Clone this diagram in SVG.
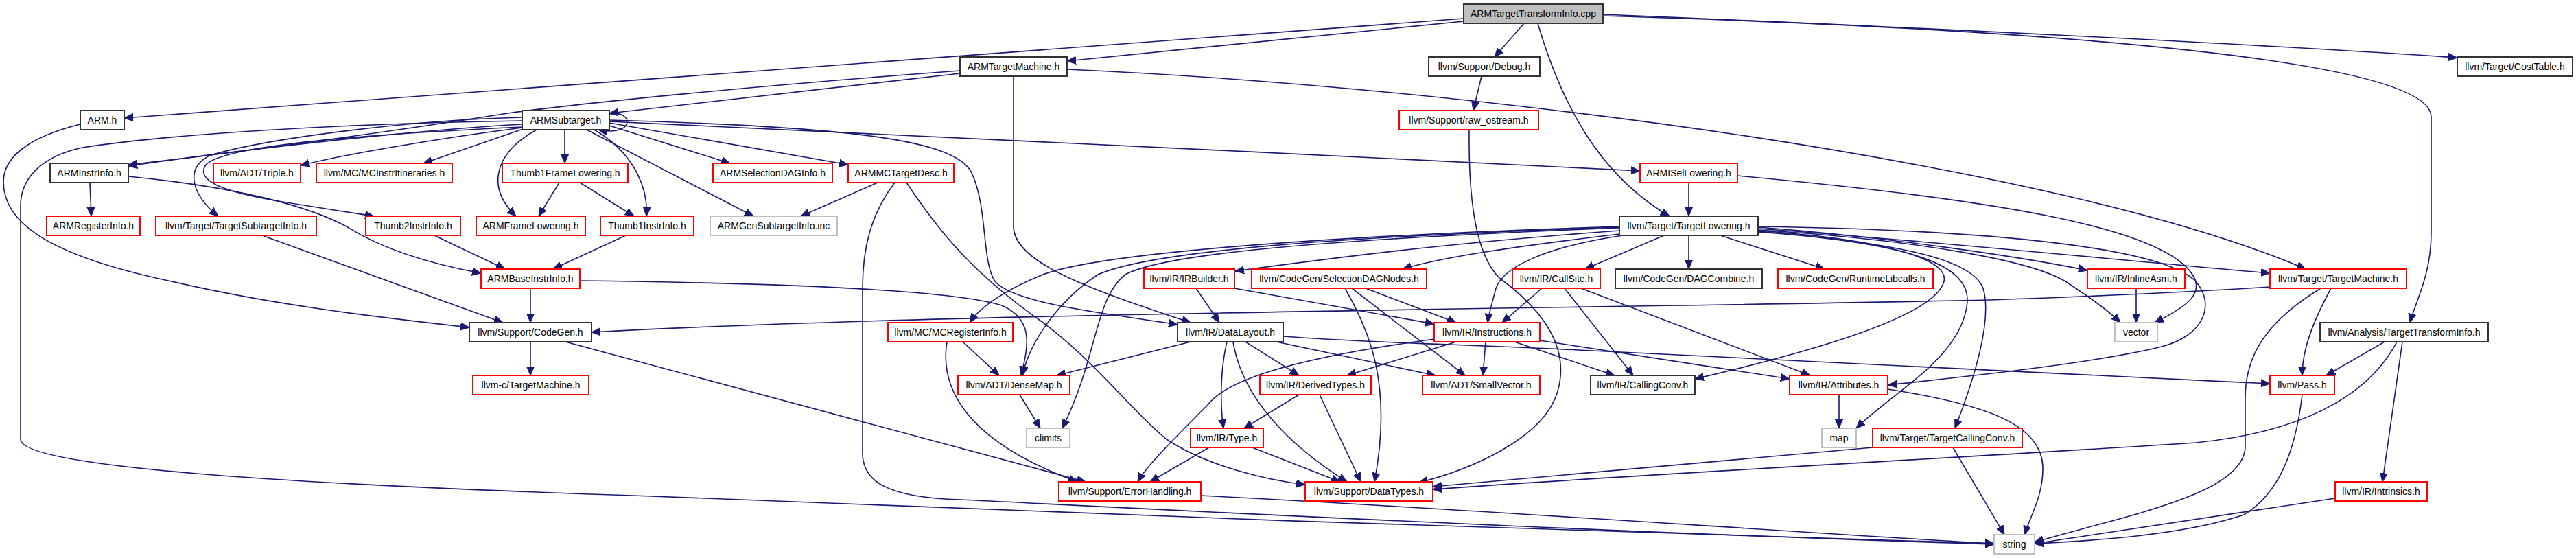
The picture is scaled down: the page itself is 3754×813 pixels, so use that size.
<svg xmlns="http://www.w3.org/2000/svg" width="3754" height="813" viewBox="0 0 3754 813">
<defs>
<style>
.n rect{fill:#fff;stroke-width:2}
.b rect{stroke:#333}
.r rect{stroke:#ff0000}
.g rect{stroke:#bfbfbf}
.root rect{fill:#bfbfbf;stroke:#333}
.n text{font-family:"Liberation Sans",Arial,sans-serif;font-size:14px;text-anchor:middle;fill:#000}
#edges path{fill:none;stroke:#191970;stroke-width:1.6;marker-end:url(#a)}
</style>
<marker id="a" markerUnits="userSpaceOnUse" markerWidth="14" markerHeight="12" refX="13" refY="6" orient="auto"><path d="M0,0.5 L13,6 L0,11.5 z" fill="#191970" stroke="#191970" stroke-width="1"/></marker>
</defs>
<rect x="0" y="0" width="3754" height="813" fill="#fff"/>
<g id="edges">
<path d="M2133,27 L181,172"/>
<path d="M2133,31 L1555,89"/>
<path d="M2221,34 L2178,83"/>
<path d="M2241,34 C2275,150 2330,255 2433,315"/>
<path d="M2336,21 C2800,40 3300,65 3581,84"/>
<path d="M2336,23 C2900,40 3543,80 3543,170 L3543,340 C3543,400 3520,440 3512,470"/>
<path d="M1399,103 C1100,125 850,150 740,165 C550,195 300,228 187,240"/>
<path d="M1399,107 L888,165"/>
<path d="M1477,111 L1477,330 C1477,385 1600,425 1735,470"/>
<path d="M1555,101 C1800,112 2050,135 2260,160 C2600,200 3100,280 3360,392"/>
<path d="M117,181 C40,200 5,230 5,265 C5,320 60,370 250,410 C400,445 550,462 684,477"/>
<path d="M888,166 C925,160 925,200 872,189"/>
<path d="M761,176 C500,180 250,195 120,215 C60,228 30,260 30,300 L30,640 C30,680 400,705 950,723 C1500,745 2400,780 2906,792"/>
<path d="M761,181 C600,190 350,218 187,242"/>
<path d="M761,171 C600,175 400,200 310,225 C270,240 275,280 318,315"/>
<path d="M761,185 C550,195 330,210 300,240 C285,262 320,278 400,292 C460,302 500,308 545,315"/>
<path d="M761,186 C650,200 500,225 438,241"/>
<path d="M762,188 L617,238"/>
<path d="M823,189 L823,238"/>
<path d="M782,189 C725,220 705,270 752,315"/>
<path d="M866,189 C920,220 945,270 942,315"/>
<path d="M855,189 L1098,315"/>
<path d="M888,183 L1064,238"/>
<path d="M888,179 L1236,240"/>
<path d="M888,177 C1300,195 1900,225 2390,249"/>
<path d="M888,175 C1250,185 1390,205 1415,250 C1440,300 1430,380 1450,410 C1480,445 1640,460 1716,473"/>
<path d="M131,266 L133,315"/>
<path d="M187,257 C300,268 430,290 505,330 C560,365 630,385 701,398"/>
<path d="M815,266 L785,315"/>
<path d="M845,266 L924,315"/>
<path d="M633,343 L736,392"/>
<path d="M912,343 L806,392"/>
<path d="M382,343 L733,470"/>
<path d="M773,420 L773,470"/>
<path d="M845,409 C1100,412 1380,420 1460,445 C1505,465 1500,500 1488,547"/>
<path d="M1403,498 L1456,547"/>
<path d="M1380,498 C1370,560 1400,640 1570,702"/>
<path d="M1486,575 L1516,624"/>
<path d="M1735,498 L1540,547"/>
<path d="M1788,498 C1778,540 1778,590 1783,624"/>
<path d="M1815,498 L1893,547"/>
<path d="M1797,498 C1810,580 1880,650 1963,702"/>
<path d="M1860,498 L2092,547"/>
<path d="M1870,490 C2000,500 2150,502 2300,510 C2700,530 3000,545 3308,559"/>
<path d="M1743,420 L1777,470"/>
<path d="M1799,420 L2090,472"/>
<path d="M1990,420 L2122,470"/>
<path d="M1970,420 L2135,547"/>
<path d="M1960,420 C1995,480 2030,560 2003,702"/>
<path d="M2247,420 L2189,470"/>
<path d="M2280,420 L2380,547"/>
<path d="M2304,420 L2638,547"/>
<path d="M2122,498 L1963,547"/>
<path d="M2165,498 L2161,547"/>
<path d="M2207,498 L2353,547"/>
<path d="M2244,496 L2608,552"/>
<path d="M2090,494 C1900,520 1790,550 1760,590 C1710,640 1670,680 1658,702"/>
<path d="M1762,652 L1676,702"/>
<path d="M1825,652 L1953,702"/>
<path d="M1893,575 L1813,624"/>
<path d="M1923,575 L1983,702"/>
<path d="M2141,189 C2140,290 2150,370 2185,405 C2240,445 2290,500 2270,570 C2250,640 2140,685 2068,703"/>
<path d="M2159,111 L2147,161"/>
<path d="M2461,266 L2461,315"/>
<path d="M2532,256 C2900,290 3150,330 3195,400 C3215,430 3180,450 3140,470"/>
<path d="M2360,330 C1900,345 1600,370 1520,400 C1470,420 1430,445 1413,470"/>
<path d="M2360,331 C1950,345 1680,365 1600,400 C1540,440 1500,500 1490,547"/>
<path d="M2360,332 C1950,348 1700,368 1640,400 C1595,435 1600,520 1548,624"/>
<path d="M2360,336 C2100,355 1950,375 1800,395"/>
<path d="M2360,341 C2200,360 2100,375 2044,392"/>
<path d="M2365,343 C2250,360 2190,390 2180,420 C2175,440 2170,455 2168,470"/>
<path d="M2425,343 L2310,392"/>
<path d="M2461,343 L2461,392"/>
<path d="M2507,343 L2659,392"/>
<path d="M2562,331 C2750,345 2950,375 3042,394"/>
<path d="M2562,333 C2800,350 3100,380 3308,398"/>
<path d="M2562,335 C2800,350 2960,380 3010,410 C3040,430 3070,450 3090,470"/>
<path d="M2562,337 C2780,355 2875,380 2890,420 C2905,470 2870,570 2849,624"/>
<path d="M2562,336 C2760,350 2840,380 2833,410 C2820,460 2650,510 2470,552"/>
<path d="M2562,338 C2800,355 2870,390 2867,440 C2860,520 2760,570 2705,624"/>
<path d="M2562,330 C2900,335 3150,360 3200,410 C3230,445 3210,490 3150,505 C3050,530 2850,550 2752,561"/>
<path d="M3113,420 L3113,470"/>
<path d="M3308,418 C3200,425 3100,430 2900,437 C2300,450 1400,455 862,484"/>
<path d="M3382,420 C3300,470 3272,520 3272,580 L3272,650 C3272,720 3100,750 2965,790"/>
<path d="M3397,420 C3370,470 3355,510 3355,547"/>
<path d="M3475,498 L3390,547"/>
<path d="M3493,498 C3450,580 3350,630 3200,645 C2900,665 2400,690 2088,713"/>
<path d="M3501,498 L3472,702"/>
<path d="M3355,575 C3345,660 3320,720 3270,750 C3180,780 3050,788 2965,792"/>
<path d="M3403,726 L2965,792"/>
<path d="M2846,652 L2921,779"/>
<path d="M2729,652 L2088,709"/>
<path d="M2680,575 L2680,624"/>
<path d="M2751,567 C2900,590 2975,620 2977,680 C2978,720 2960,750 2950,779"/>
<path d="M1750,722 C2200,745 2600,775 2906,792"/>
<path d="M1279,266 L1167,315"/>
<path d="M1304,266 C1270,310 1257,360 1257,420 L1257,660 C1257,700 1290,725 1400,728 C1550,735 2300,775 2906,793"/>
<path d="M1321,266 C1370,340 1420,400 1520,470 C1600,530 1650,600 1700,640 C1760,680 1850,700 1902,706"/>
<path d="M773,498 L773,547"/>
<path d="M824,498 L1582,702"/>
</g>
<g id="n0" class="n root"><rect x="2133" y="6" width="203" height="28"/><text x="2234.5" y="25">ARMTargetTransformInfo.cpp</text></g>
<g id="n1" class="n b"><rect x="117" y="161" width="64" height="28"/><text x="149" y="180">ARM.h</text></g>
<g id="n2" class="n b"><rect x="1399" y="83" width="156" height="28"/><text x="1477" y="102">ARMTargetMachine.h</text></g>
<g id="n3" class="n b"><rect x="2082" y="83" width="162" height="28"/><text x="2163" y="102">llvm/Support/Debug.h</text></g>
<g id="n4" class="n b"><rect x="3581" y="83" width="168" height="28"/><text x="3665" y="102">llvm/Target/CostTable.h</text></g>
<g id="n5" class="n b"><rect x="761" y="161" width="127" height="28"/><text x="824.5" y="180">ARMSubtarget.h</text></g>
<g id="n6" class="n r"><rect x="2039" y="161" width="203" height="28"/><text x="2140.5" y="180">llvm/Support/raw_ostream.h</text></g>
<g id="n7" class="n b"><rect x="73" y="238" width="114" height="28"/><text x="130" y="257">ARMInstrInfo.h</text></g>
<g id="n8" class="n r"><rect x="311" y="238" width="127" height="28"/><text x="374.5" y="257">llvm/ADT/Triple.h</text></g>
<g id="n9" class="n r"><rect x="461" y="238" width="198" height="28"/><text x="560" y="257">llvm/MC/MCInstrItineraries.h</text></g>
<g id="n10" class="n r"><rect x="732" y="238" width="183" height="28"/><text x="823.5" y="257">Thumb1FrameLowering.h</text></g>
<g id="n11" class="n r"><rect x="1039" y="238" width="174" height="28"/><text x="1126" y="257">ARMSelectionDAGInfo.h</text></g>
<g id="n12" class="n r"><rect x="1236" y="238" width="154" height="28"/><text x="1313" y="257">ARMMCTargetDesc.h</text></g>
<g id="n13" class="n r"><rect x="2390" y="238" width="142" height="28"/><text x="2461" y="257">ARMISelLowering.h</text></g>
<g id="n14" class="n r"><rect x="68" y="315" width="136" height="28"/><text x="136" y="334">ARMRegisterInfo.h</text></g>
<g id="n15" class="n r"><rect x="227" y="315" width="234" height="28"/><text x="344" y="334">llvm/Target/TargetSubtargetInfo.h</text></g>
<g id="n16" class="n r"><rect x="533" y="315" width="138" height="28"/><text x="602" y="334">Thumb2InstrInfo.h</text></g>
<g id="n17" class="n r"><rect x="694" y="315" width="159" height="28"/><text x="773.5" y="334">ARMFrameLowering.h</text></g>
<g id="n18" class="n r"><rect x="875" y="315" width="136" height="28"/><text x="943" y="334">Thumb1InstrInfo.h</text></g>
<g id="n19" class="n g"><rect x="1035" y="315" width="185" height="28"/><text x="1127.5" y="334">ARMGenSubtargetInfo.inc</text></g>
<g id="n20" class="n b"><rect x="2360" y="315" width="202" height="28"/><text x="2461" y="334">llvm/Target/TargetLowering.h</text></g>
<g id="n21" class="n r"><rect x="701" y="392" width="144" height="28"/><text x="773" y="411">ARMBaseInstrInfo.h</text></g>
<g id="n22" class="n r"><rect x="1667" y="392" width="132" height="28"/><text x="1733" y="411">llvm/IR/IRBuilder.h</text></g>
<g id="n23" class="n r"><rect x="1824" y="392" width="255" height="28"/><text x="1951.5" y="411">llvm/CodeGen/SelectionDAGNodes.h</text></g>
<g id="n24" class="n r"><rect x="2204" y="392" width="128" height="28"/><text x="2268" y="411">llvm/IR/CallSite.h</text></g>
<g id="n25" class="n b"><rect x="2354" y="392" width="214" height="28"/><text x="2461" y="411">llvm/CodeGen/DAGCombine.h</text></g>
<g id="n26" class="n r"><rect x="2591" y="392" width="226" height="28"/><text x="2704" y="411">llvm/CodeGen/RuntimeLibcalls.h</text></g>
<g id="n27" class="n r"><rect x="3042" y="392" width="142" height="28"/><text x="3113" y="411">llvm/IR/InlineAsm.h</text></g>
<g id="n28" class="n r"><rect x="3308" y="392" width="199" height="28"/><text x="3407.5" y="411">llvm/Target/TargetMachine.h</text></g>
<g id="n29" class="n b"><rect x="684" y="470" width="178" height="28"/><text x="773" y="489">llvm/Support/CodeGen.h</text></g>
<g id="n30" class="n r"><rect x="1294" y="470" width="182" height="28"/><text x="1385" y="489">llvm/MC/MCRegisterInfo.h</text></g>
<g id="n31" class="n b"><rect x="1716" y="470" width="154" height="28"/><text x="1793" y="489">llvm/IR/DataLayout.h</text></g>
<g id="n32" class="n r"><rect x="2090" y="470" width="154" height="28"/><text x="2167" y="489">llvm/IR/Instructions.h</text></g>
<g id="n33" class="n g"><rect x="3082" y="470" width="62" height="28"/><text x="3113" y="489">vector</text></g>
<g id="n34" class="n b"><rect x="3381" y="470" width="245" height="28"/><text x="3503.5" y="489">llvm/Analysis/TargetTransformInfo.h</text></g>
<g id="n35" class="n r"><rect x="689" y="547" width="169" height="28"/><text x="773.5" y="566">llvm-c/TargetMachine.h</text></g>
<g id="n36" class="n r"><rect x="1396" y="547" width="163" height="28"/><text x="1477.5" y="566">llvm/ADT/DenseMap.h</text></g>
<g id="n37" class="n r"><rect x="1836" y="547" width="162" height="28"/><text x="1917" y="566">llvm/IR/DerivedTypes.h</text></g>
<g id="n38" class="n r"><rect x="2073" y="547" width="171" height="28"/><text x="2158.5" y="566">llvm/ADT/SmallVector.h</text></g>
<g id="n39" class="n b"><rect x="2318" y="547" width="152" height="28"/><text x="2394" y="566">llvm/IR/CallingConv.h</text></g>
<g id="n40" class="n r"><rect x="2608" y="547" width="143" height="28"/><text x="2679.5" y="566">llvm/IR/Attributes.h</text></g>
<g id="n41" class="n r"><rect x="3308" y="547" width="94" height="28"/><text x="3355" y="566">llvm/Pass.h</text></g>
<g id="n42" class="n g"><rect x="1496" y="624" width="63" height="28"/><text x="1527.5" y="643">climits</text></g>
<g id="n43" class="n r"><rect x="1735" y="624" width="106" height="28"/><text x="1788" y="643">llvm/IR/Type.h</text></g>
<g id="n44" class="n g"><rect x="2655" y="624" width="50" height="28"/><text x="2680" y="643">map</text></g>
<g id="n45" class="n r"><rect x="2729" y="624" width="218" height="28"/><text x="2838" y="643">llvm/Target/TargetCallingConv.h</text></g>
<g id="n46" class="n r"><rect x="1543" y="702" width="207" height="28"/><text x="1646.5" y="721">llvm/Support/ErrorHandling.h</text></g>
<g id="n47" class="n r"><rect x="1902" y="702" width="186" height="28"/><text x="1995" y="721">llvm/Support/DataTypes.h</text></g>
<g id="n48" class="n r"><rect x="3403" y="702" width="134" height="28"/><text x="3470" y="721">llvm/IR/Intrinsics.h</text></g>
<g id="n49" class="n g"><rect x="2906" y="779" width="59" height="28"/><text x="2935.5" y="798">string</text></g>
</svg>
